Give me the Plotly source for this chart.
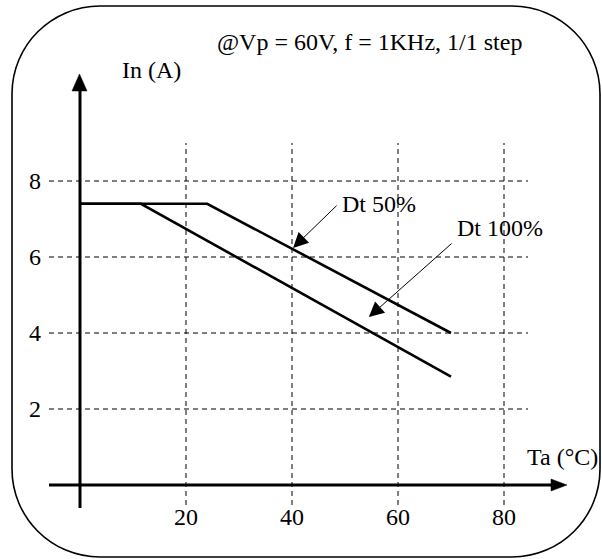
import plotly.graph_objects as go

# ---- data ----
ta_dt50 = [0, 24, 70]
in_dt50 = [7.4, 7.4, 4.0]
ta_dt100 = [0, 11.5, 70]
in_dt100 = [7.4, 7.4, 2.85]
x_ticks = [20, 40, 60, 80]
y_ticks = [2, 4, 6, 8]
title_text = "@Vp = 60V, f = 1KHz, 1/1 step"
y_label = "In (A)"
x_label = "Ta (°C)"

W, H = 602, 559
X0PX, XS = 80, 5.3      # pixel of x=0, px per unit
Y0PX, YS = 485, 38      # pixel of y=0, px per unit
FONT = "Liberation Serif"
FS = 24


def px2x(px):
    return (px - X0PX) / XS


def px2y(py):
    return (Y0PX - py) / YS


def pp(px, py):
    return f"{px / W:.5f},{1 - py / H:.5f}"


fig = go.Figure()
for xs, ys, nm in [(ta_dt50, in_dt50, "Dt 50%"), (ta_dt100, in_dt100, "Dt 100%")]:
    fig.add_trace(go.Scatter(x=xs, y=ys, mode="lines", name=nm,
                             line=dict(color="black", width=2.6),
                             showlegend=False, hoverinfo="skip"))

shapes = []
grid = dict(color="black", width=1, dash="5px,4px")
for xv in x_ticks:
    shapes.append(dict(type="line", xref="x", yref="y", x0=xv, x1=xv,
                       y0=px2y(505), y1=px2y(143), line=grid, layer="below"))
for yv in y_ticks:
    shapes.append(dict(type="line", xref="x", yref="y", x0=px2x(49), x1=px2x(528),
                       y0=yv, y1=yv, line=grid, layer="below"))

# axes
ax_line = dict(color="black", width=3)
shapes.append(dict(type="line", xref="x", yref="y", x0=px2x(49), x1=px2x(553),
                   y0=0, y1=0, line=ax_line))
shapes.append(dict(type="line", xref="x", yref="y", x0=0, x1=0,
                   y0=px2y(508), y1=px2y(88), line=ax_line))
# arrow heads (paper/pixel space)
shapes.append(dict(type="path", xref="paper", yref="paper",
                   path=f"M{pp(79.5, 74)} L{pp(72, 91)} L{pp(87, 91)} Z",
                   fillcolor="black", line=dict(color="black", width=0.5)))
shapes.append(dict(type="path", xref="paper", yref="paper",
                   path=f"M{pp(567, 485)} L{pp(551, 479)} L{pp(551, 491)} Z",
                   fillcolor="black", line=dict(color="black", width=0.5)))

# rounded border
L, R, T, B = 12, 600, 6, 557
rx, ry = 88, 88
k = 0.5523
path = (f"M{pp(L + rx, T)} L{pp(R - rx, T)} "
        f"C{pp(R - rx + k * rx, T)} {pp(R, T + ry - k * ry)} {pp(R, T + ry)} "
        f"L{pp(R, B - ry)} "
        f"C{pp(R, B - ry + k * ry)} {pp(R - rx + k * rx, B)} {pp(R - rx, B)} "
        f"L{pp(L + rx, B)} "
        f"C{pp(L + rx - k * rx, B)} {pp(L, B - ry + k * ry)} {pp(L, B - ry)} "
        f"L{pp(L, T + ry)} "
        f"C{pp(L, T + ry - k * ry)} {pp(L + rx - k * rx, T)} {pp(L + rx, T)} Z")
shapes.append(dict(type="path", xref="paper", yref="paper", path=path,
                   line=dict(color="black", width=1.6), layer="below"))

ann = []
tf = dict(family=FONT, size=FS, color="black")
for xv in x_ticks:
    ann.append(dict(x=xv, y=px2y(517), xref="x", yref="y", text=str(xv),
                    showarrow=False, font=tf, xanchor="center", yanchor="middle"))
for yv in y_ticks:
    ann.append(dict(x=px2x(35), y=yv, xref="x", yref="y", text=str(yv),
                    showarrow=False, font=tf, xanchor="center", yanchor="middle"))
ann.append(dict(x=px2x(215), y=px2y(42), xref="x", yref="y", text=title_text,
                showarrow=False, font=tf, xanchor="left", yanchor="middle"))
ann.append(dict(x=px2x(120), y=px2y(70), xref="x", yref="y", text=y_label,
                showarrow=False, font=tf, xanchor="left", yanchor="middle"))
ann.append(dict(x=px2x(525), y=px2y(457), xref="x", yref="y", text=x_label,
                showarrow=False, font=tf, xanchor="left", yanchor="middle"))
ann.append(dict(x=px2x(340), y=px2y(204), xref="x", yref="y", text="Dt 50%",
                showarrow=False, font=tf, xanchor="left", yanchor="middle"))
ann.append(dict(x=px2x(455), y=px2y(228), xref="x", yref="y", text="Dt 100%",
                showarrow=False, font=tf, xanchor="left", yanchor="middle"))
# pointer arrows
for tip, tail in [((40.2, 6.24), (48.7, 7.39)), ((54.5, 4.42), (70.4, 6.39))]:
    ann.append(dict(x=tip[0], y=tip[1], ax=tail[0], ay=tail[1], xref="x", yref="y",
                    axref="x", ayref="y", text="", showarrow=True, arrowhead=2,
                    arrowsize=3, arrowwidth=1, arrowcolor="black"))

fig.update_layout(
    width=W, height=H, margin=dict(l=0, r=0, t=0, b=0),
    paper_bgcolor="white", plot_bgcolor="white",
    xaxis=dict(range=[px2x(0), px2x(W)], visible=False, fixedrange=True),
    yaxis=dict(range=[px2y(H), px2y(0)], visible=False, fixedrange=True),
    shapes=shapes, annotations=ann, showlegend=False,
)
fig.write_html("out.html", config={"displayModeBar": False},
               post_script="document.body.style.margin='0';document.body.style.padding='0';")
